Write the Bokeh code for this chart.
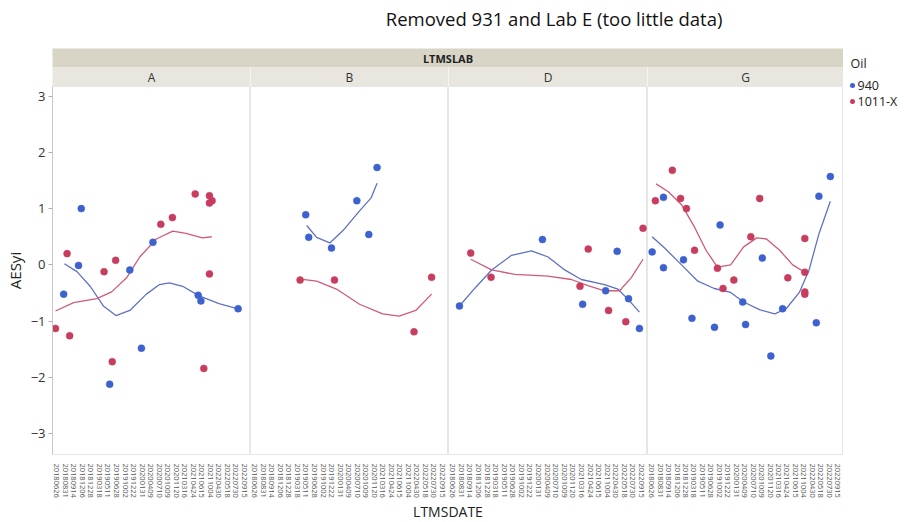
from bokeh.plotting import figure
from bokeh.layouts import row, column
from bokeh.models import Range1d, FixedTicker, ColumnDataSource
from bokeh.core.properties import value
from bokeh.embed import file_html
from bokeh.resources import INLINE

# ---------------- data ----------------
title_text = "Removed 931  and Lab E (too little data)"
group_title = "LTMSLAB"
x_title = "LTMSDATE"
y_title = "AESyi"
legend_title = "Oil"
oils = ["940", "1011-X"]
labs = ["A", "B", "D", "G"]
dates = ["20180626", "20180831", "20180914", "20181206", "20181228", "20190318",
         "20190511", "20190628", "20191002", "20191222", "20200131", "20200409",
         "20200710", "20201009", "20201120", "20210316", "20210424", "20210615",
         "20211004", "20220430", "20220518", "20220730", "20220915"]
y_ticks = [-3, -2, -1, 0, 1, 2, 3]

# points: x = position on the date axis (category index), y = AESyi
a_940_x = [0.81, 2.55, 2.87, 6.20, 8.56, 9.92, 11.27, 16.57, 16.89, 21.25]
a_940_y = [-0.52, -0.01, 1.00, -2.12, -0.09, -1.48, 0.40, -0.54, -0.64, -0.78]
a_1011_x = [-0.15, 1.51, 1.21, 5.54, 6.90, 6.50, 12.19, 13.55, 16.22, 17.89, 18.20, 17.89, 17.89, 17.23]
a_1011_y = [-1.13, -1.26, 0.20, -0.12, 0.08, -1.72, 0.72, 0.84, 1.26, 1.23, 1.14, 1.10, -0.16, -1.84]

b_940_x = [5.97, 6.32, 8.99, 11.96, 13.36, 14.33]
b_940_y = [0.89, 0.49, 0.30, 1.14, 0.54, 1.73]
b_1011_x = [5.31, 9.34, 20.72, 18.66]
b_1011_y = [-0.27, -0.27, -0.22, -1.19]

d_940_x = [0.78, 10.45, 19.16, 15.14, 17.82, 20.49, 21.76]
d_940_y = [-0.73, 0.45, 0.24, -0.70, -0.46, -0.60, -1.13]
d_1011_x = [2.09, 4.46, 14.83, 15.79, 18.16, 20.17, 22.18]
d_1011_y = [0.21, -0.22, -0.38, 0.28, -0.81, -1.01, 0.65]

g_940_x = [0.05, 1.39, 1.39, 3.76, 4.76, 8.09, 7.43, 10.77, 11.11, 13.09, 14.10, 15.49, 19.48, 19.79, 21.14]
g_940_y = [0.23, 1.20, -0.05, 0.09, -0.95, 0.71, -1.11, -0.66, -1.06, 0.12, -1.62, -0.78, -1.03, 1.22, 1.57]
g_1011_x = [0.43, 2.44, 3.41, 4.11, 5.07, 7.78, 8.44, 9.72, 11.73, 12.78, 16.11, 18.12, 18.12, 18.12, 18.12]
g_1011_y = [1.14, 1.68, 1.18, 1.00, 0.26, -0.06, -0.42, -0.27, 0.50, 1.18, -0.23, 0.47, -0.48, -0.52, -0.13]

# smoothing-spline curves
a_940_fit_x = [0.89, 2.37, 3.91, 5.46, 6.93, 8.56, 10.50, 12.04, 13.20, 14.75, 16.69, 19.01, 21.25]
a_940_fit_y = [0.02, -0.12, -0.38, -0.73, -0.90, -0.81, -0.52, -0.35, -0.32, -0.38, -0.55, -0.69, -0.78]
a_1011_fit_x = [-0.15, 1.97, 4.69, 6.43, 8.18, 9.72, 11.66, 13.59, 15.14, 17.07, 18.16]
a_1011_fit_y = [-0.82, -0.67, -0.60, -0.48, -0.23, 0.14, 0.46, 0.60, 0.56, 0.48, 0.50]

b_940_fit_x = [6.09, 7.25, 8.79, 10.34, 12.28, 13.63, 14.33]
b_940_fit_y = [0.70, 0.49, 0.39, 0.61, 0.96, 1.19, 1.45]
b_1011_fit_x = [5.11, 7.25, 9.57, 12.28, 14.98, 16.92, 18.86, 20.72]
b_1011_fit_y = [-0.25, -0.29, -0.43, -0.70, -0.87, -0.91, -0.81, -0.52]

d_940_fit_x = [0.78, 2.60, 4.53, 6.85, 9.17, 11.11, 13.05, 14.98, 17.70, 19.24, 20.60, 21.76]
d_940_fit_y = [-0.73, -0.41, -0.09, 0.17, 0.25, 0.14, -0.09, -0.26, -0.35, -0.43, -0.64, -0.84]
d_1011_fit_x = [2.09, 4.53, 7.25, 11.11, 13.82, 15.76, 17.70, 19.44, 20.79, 22.18]
d_1011_fit_y = [0.10, -0.09, -0.17, -0.20, -0.26, -0.37, -0.46, -0.46, -0.23, 0.10]

g_940_fit_x = [0.05, 1.59, 3.53, 5.46, 7.40, 9.34, 10.88, 12.82, 14.56, 15.91, 17.47, 18.63, 19.79, 21.14]
g_940_fit_y = [0.50, 0.29, 0.00, -0.29, -0.42, -0.49, -0.66, -0.80, -0.87, -0.78, -0.49, -0.09, 0.55, 1.13]
g_1011_fit_x = [0.51, 1.97, 3.53, 5.07, 6.43, 7.78, 9.34, 10.88, 12.43, 13.59, 15.14, 16.69, 18.12]
g_1011_fit_y = [1.44, 1.30, 1.07, 0.67, 0.26, -0.04, 0.00, 0.32, 0.48, 0.46, 0.26, 0.00, -0.13]

points = {
    "A": {"940": (a_940_x, a_940_y), "1011-X": (a_1011_x, a_1011_y)},
    "B": {"940": (b_940_x, b_940_y), "1011-X": (b_1011_x, b_1011_y)},
    "D": {"940": (d_940_x, d_940_y), "1011-X": (d_1011_x, d_1011_y)},
    "G": {"940": (g_940_x, g_940_y), "1011-X": (g_1011_x, g_1011_y)},
}
fits = {
    "A": {"940": (a_940_fit_x, a_940_fit_y), "1011-X": (a_1011_fit_x, a_1011_fit_y)},
    "B": {"940": (b_940_fit_x, b_940_fit_y), "1011-X": (b_1011_fit_x, b_1011_fit_y)},
    "D": {"940": (d_940_fit_x, d_940_fit_y), "1011-X": (d_1011_fit_x, d_1011_fit_y)},
    "G": {"940": (g_940_fit_x, g_940_fit_y), "1011-X": (g_1011_fit_x, g_1011_fit_y)},
}

# ---------------- style / layout ----------------
FONT = value("Open Sans")
dot_color = {"940": "#3d61cf", "1011-X": "#c83c5e"}
line_color = {"940": "#5f71c4", "1011-X": "#cf5b78"}
STRIP_DARK = "#d8d5c6"
STRIP_LIGHT = "#e9e6df"
HEAD_H = 86
FRAME_H = 376
BOTTOM = 38
FOOT_H = 22
LEFT_AXIS = 52
frame_w = [198, 198, 199, 196]
total_w = LEFT_AXIS + sum(frame_w)
LEG_W = 904 - total_w

yr = Range1d(-3.37, 3.17)


def blank(w, h):
    f = figure(width=w, height=h, x_range=Range1d(0, w), y_range=Range1d(h, 0),
               output_backend="svg", toolbar_location=None, title=None,
               x_axis_location=None, y_axis_location=None,
               min_border=0, min_border_left=0, min_border_right=0,
               min_border_top=0, min_border_bottom=0)
    f.grid.visible = False
    f.outline_line_color = None
    return f


# header: title + strips
head = blank(total_w, HEAD_H)
head.text(x=[556], y=[18], text=[title_text], text_align="center", text_baseline="middle",
          text_font=FONT, text_font_size="18.5px", text_color="#111111")
head.quad(left=[LEFT_AXIS], right=[total_w], top=[48], bottom=[67],
          fill_color=STRIP_DARK, line_color=None)
head.quad(left=[LEFT_AXIS], right=[total_w], top=[67], bottom=[HEAD_H],
          fill_color=STRIP_LIGHT, line_color=None)
head.text(x=[(LEFT_AXIS + total_w) / 2], y=[58], text=[group_title], text_align="center",
          text_baseline="middle", text_font=FONT, text_font_size="11px",
          text_font_style="bold", text_color="#222222")
edges = [LEFT_AXIS]
for w in frame_w:
    edges.append(edges[-1] + w)
head.text(x=[(edges[i] + edges[i + 1]) / 2 for i in range(len(labs))], y=[77] * len(labs),
          text=labs, text_align="center", text_baseline="middle", text_font=FONT,
          text_font_size="12px", text_color="#333333")
head.segment(x0=edges[1:-1], x1=edges[1:-1], y0=[67] * (len(edges) - 2), y1=[HEAD_H] * (len(edges) - 2),
             line_color="#f6f5f1", line_width=1)

# panels
panels = []
for i, lab in enumerate(labs):
    left = LEFT_AXIS if i == 0 else 0
    p = figure(width=frame_w[i] + left, height=FRAME_H + BOTTOM,
               x_range=Range1d(-0.5, len(dates) - 0.3), y_range=yr,
               output_backend="svg", toolbar_location=None, title=None,
               y_axis_location="left" if i == 0 else None,
               min_border_left=left, min_border_right=0, min_border_top=0,
               min_border_bottom=BOTTOM)
    p.grid.visible = False
    p.outline_line_color = "#e6e6e6"
    p.background_fill_color = "white"
    xa = p.xaxis[0]
    xa.ticker = FixedTicker(ticks=list(range(len(dates))))
    xa.major_label_overrides = {k: d for k, d in enumerate(dates)}
    xa.major_label_orientation = "vertical"
    xa.major_label_text_font = "Open Sans"
    xa.major_label_text_font_size = "7.5px"
    xa.major_label_text_color = "#555555"
    xa.major_label_standoff = 3
    xa.axis_line_color = None
    xa.major_tick_line_color = None
    xa.minor_tick_line_color = None
    if i == 0:
        ya = p.yaxis[0]
        ya.ticker = FixedTicker(ticks=y_ticks)
        ya.axis_label = y_title
        ya.axis_label_text_font = "Open Sans"
        ya.axis_label_text_font_size = "15px"
        ya.axis_label_text_font_style = "normal"
        ya.axis_label_text_color = "#222222"
        ya.axis_label_standoff = 3
        ya.major_label_text_font = "Open Sans"
        ya.major_label_text_font_size = "13px"
        ya.major_label_text_color = "#333333"
        ya.major_label_standoff = 3
        ya.axis_line_color = "#c8c8c8"
        ya.major_tick_line_color = "#b0b0b0"
        ya.major_tick_out = 4
        ya.major_tick_in = 0
        ya.minor_tick_line_color = None
    for oil in oils:
        fx, fy = fits[lab][oil]
        p.line(x=fx, y=fy, line_color=line_color[oil], line_width=1.3, line_join="round")
    for oil in oils:
        px, py = points[lab][oil]
        src = ColumnDataSource(data=dict(x=px, y=py))
        p.scatter(x="x", y="y", source=src, size=7, fill_color=dot_color[oil],
                  line_color=dot_color[oil], line_width=0.5)
    panels.append(p)

# footer: x-axis title
foot = blank(total_w, FOOT_H)
foot.text(x=[(LEFT_AXIS + total_w) / 2], y=[11], text=[x_title], text_align="center",
          text_baseline="middle", text_font=FONT, text_font_size="14px", text_color="#222222")

# legend
LEG_H = HEAD_H + FRAME_H + BOTTOM + FOOT_H
leg = blank(LEG_W, LEG_H)
leg.text(x=[7], y=[63], text=[legend_title], text_align="left", text_baseline="middle",
         text_font=FONT, text_font_size="12.5px", text_color="#222222")
leg.scatter(x=[9] * len(oils), y=[85, 101], size=5, fill_color=[dot_color[o] for o in oils],
            line_color=None)
leg.text(x=[14] * len(oils), y=[85, 101], text=oils, text_align="left", text_baseline="middle",
         text_font=FONT, text_font_size="12.5px", text_color="#222222")

layout = row(column(head, row(*panels), foot), leg)

open("out.html", "w").write(file_html(layout, INLINE))
